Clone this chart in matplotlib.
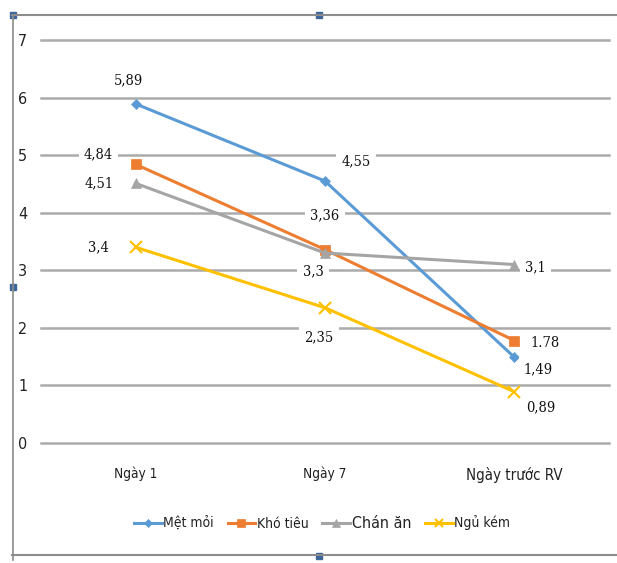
import matplotlib
matplotlib.use("Agg")
import matplotlib.pyplot as plt
from matplotlib.patches import Rectangle
from matplotlib.lines import Line2D
from matplotlib import font_manager

# Symptom scores over the follow-up visits
categories = ["Ngày 1", "Ngày 7", "Ngày trước RV"]
series_names = ["Mệt mỏi", "Khó tiêu", "Chán ăn", "Ngủ kém"]
met_moi = [5.89, 4.55, 1.49]
kho_tieu = [4.84, 3.36, 1.78]
chan_an = [4.51, 3.3, 3.1]
ngu_kem = [3.4, 2.35, 0.89]
y_ticks = [0, 1, 2, 3, 4, 5, 6, 7]

series_values = [met_moi, kho_tieu, chan_an, ngu_kem]
colors = ["#5B9BD5", "#ED7D31", "#A5A5A5", "#FFC000"]
markers = ["D", "s", "^", "x"]
marker_sizes = [5, 7, 7, 8]

# label offsets in pixels from each point
offsets = [
    [(-7, 24), (31, 20), (24, -12)],
    [(-37, 10), (0, 34), (31, -2)],
    [(-37, 0), (-12, -18), (21, -3)],
    [(-37, 0), (-6, -30), (26, -16)],
]
# decimal separator used in each label
separators = [
    [",", ",", ","],
    [",", ",", "."],
    [",", ",", ","],
    [",", ",", ","],
]


def cond(family="DejaVu Sans", size=10):
    return font_manager.FontProperties(family=family, stretch="condensed",
                                       size=size)


W, H = 617, 563
fig = plt.figure(figsize=(W / 100, H / 100), dpi=100)
fig.patch.set_facecolor("white")

ax_left, ax_right = 41, 609
ax_top, ax_bottom = 40, 443
ax = fig.add_axes([ax_left / W, 1 - ax_bottom / H,
                   (ax_right - ax_left) / W, (ax_bottom - ax_top) / H])
ax.set_xlim(-0.5, len(categories) - 0.5)
ax.set_ylim(0, 7)
for s in ax.spines.values():
    s.set_visible(False)
ax.set_yticks(y_ticks)
ax.yaxis.grid(True, color="#ABABAB", linewidth=1.8)
for gl in ax.get_ygridlines():
    gl.set_clip_on(False)
ax.set_axisbelow(True)
ax.tick_params(axis="both", length=0)
ax.set_yticklabels([str(t) for t in y_ticks], fontproperties=cond(size=11.5),
                   color="#222222")
ax.tick_params(axis="y", pad=10)
ax.set_xticks(range(len(categories)))
ax.set_xticklabels(categories, color="#222222")
ax.tick_params(axis="x", pad=17)
for lbl, size in zip(ax.get_xticklabels(), [9.8, 9.8, 10.8]):
    lbl.set_fontproperties(cond(size=size))

x = list(range(len(categories)))
for vals, name, col, mk, ms, offs, seps in zip(series_values, series_names,
                                                 colors, markers, marker_sizes,
                                                 offsets, separators):
    ax.plot(x, vals, color=col, linewidth=2.2, marker=mk, markersize=ms,
            markeredgewidth=1.5 if mk == "x" else 0.5, markeredgecolor=col,
            label=name, zorder=3, clip_on=False)
    for xi, v, (dx, dy), sep in zip(x, vals, offs, seps):
        ax.annotate(f"{v:g}".replace(".", sep), (xi, v), xytext=(dx, dy),
                    textcoords="offset pixels", ha="center", va="center",
                    fontproperties=cond("DejaVu Serif", 10.5),
                    color="#111111", zorder=4,
                    bbox=dict(boxstyle="square,pad=0.35", fc="white",
                              ec="none"))

handles = [Line2D([0], [0], color=c, marker=m, markersize=ms * 0.75,
                  linewidth=2.2, markeredgecolor=c,
                  markeredgewidth=1.5 if m == "x" else 0.5)
           for c, m, ms in zip(colors, markers, marker_sizes)]
leg = fig.legend(handles, series_names, loc="center",
                 bbox_to_anchor=(322 / W, 1 - 523 / H), ncol=4, frameon=False,
                 handlelength=2.0, handletextpad=0.1, columnspacing=1.0,
                 prop=cond(size=10))
leg.get_texts()[2].set_fontproperties(cond(size=11.5))
for t in leg.get_texts():
    t.set_color("#222222")

# frame of the chart area
frame_col = "#8C8C8C"
fig.add_artist(Line2D([12 / W, 1], [1 - 15 / H, 1 - 15 / H],
                      color=frame_col, linewidth=1.5))
fig.add_artist(Line2D([12 / W, 1], [1 - 555 / H, 1 - 555 / H],
                      color=frame_col, linewidth=1.5))
fig.add_artist(Line2D([13 / W, 13 / W], [1 - 15 / H, 1 - 560 / H],
                      color=frame_col, linewidth=1.2))
for hx, hy in [(13, 15), (319, 15), (13, 287), (319, 556)]:
    fig.add_artist(Rectangle(((hx - 3) / W, 1 - (hy + 3) / H), 6 / W, 6 / H,
                             transform=fig.transFigure, color="#3D6699"))

fig.savefig("out.png", dpi=100)
